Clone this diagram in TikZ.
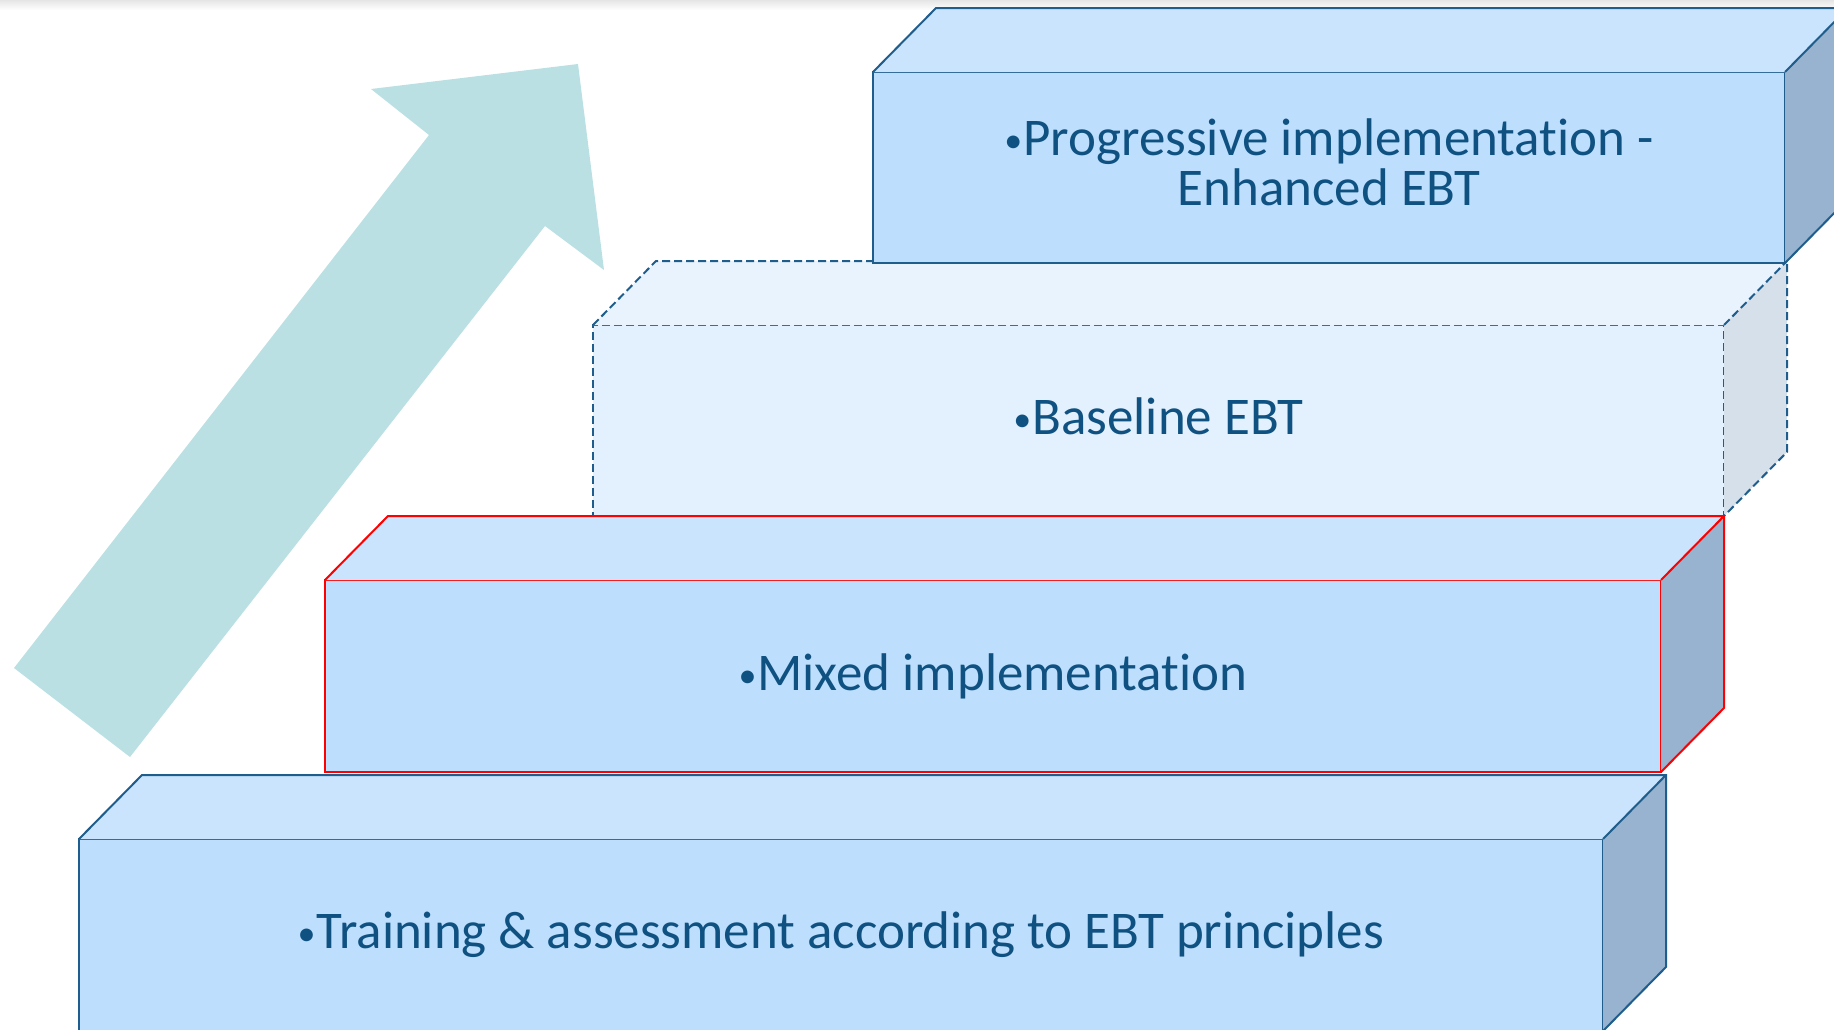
\documentclass[tikz,border=0pt]{standalone}
\usepackage{fontspec}
\setmainfont[Ligatures=NoCommon]{Carlito}
\usepackage{tikz}

\definecolor{stepline}{RGB}{31,93,140}
\definecolor{stepfront}{RGB}{189,222,253}
\definecolor{steptop}{RGB}{202,228,253}
\definecolor{stepside}{RGB}{152,179,207}
\definecolor{basefront}{RGB}{227,240,253}
\definecolor{basetop}{RGB}{232,243,253}
\definecolor{baseside}{RGB}{213,224,235}
\definecolor{arrowfill}{RGB}{187,224,227}
\definecolor{steptext}{RGB}{15,82,130}

\newcommand{\stepdot}{\raisebox{3pt}{\fontsize{36}{36}\selectfont•}\kern1pt}

\tikzset{
	front/.style={draw=stepline, line width=2pt, fill=stepfront, anchor=north west,
		outer sep=0pt, inner sep=0pt, text=steptext, align=center,
		font=\fontsize{53}{50}\selectfont},
	basefront/.style={front, fill=basefront, dash pattern=on 8pt off 4pt},
	redfront/.style={front, draw=red},
	edge/.style={draw=stepline, line width=2pt, line join=miter},
	baseedge/.style={edge, dash pattern=on 8pt off 4pt},
	rededge/.style={edge, draw=red},
}

\begin{document}
\begin{tikzpicture}[x=1pt, y=-1pt]
		\useasboundingbox (0,0) rectangle (1834,1029);
		\shade[top color=black!10, bottom color=white] (0,0) rectangle (1834,10);

		\fill[arrowfill] (578,64) -- (604,270) -- (545,226) -- (130,757)
			-- (14,668) -- (429,135) -- (371,89) -- cycle;

		\node[basefront, minimum width=1131pt, minimum height=191pt] (base) at (593,325) {\stepdot Baseline EBT\rule[-8pt]{0pt}{1pt}};
		\fill[basetop] (base.north west) -- ++(63,-64) -- ([shift={(63,-64)}]base.north east) -- (base.north east) -- cycle;
		\fill[baseside] (base.north east) -- ++(63,-64) -- ([shift={(63,-64)}]base.south east) -- (base.south east) -- cycle;
		\draw[baseedge] (base.north west) -- ++(63,-64) -- ([shift={(63,-64)}]base.north east)
			-- ([shift={(63,-64)}]base.south east) -- (base.south east)
			(base.north east) -- ++(63,-64);

		\node[front, minimum width=912pt, minimum height=191pt] (enh) at (873,72) {\stepdot Progressive implementation -\\Enhanced EBT\rule[-10pt]{0pt}{1pt}};
		\fill[steptop] (enh.north west) -- ++(63,-64) -- ([shift={(63,-64)}]enh.north east) -- (enh.north east) -- cycle;
		\fill[stepside] (enh.north east) -- ++(63,-64) -- ([shift={(63,-64)}]enh.south east) -- (enh.south east) -- cycle;
		\draw[edge] (enh.north west) -- ++(63,-64) -- ([shift={(63,-64)}]enh.north east)
			-- ([shift={(63,-64)}]enh.south east) -- (enh.south east)
			(enh.north east) -- ++(63,-64);

		\node[front, minimum width=1524pt, minimum height=192pt] (train) at (79,839) {\stepdot Training \& assessment according to EBT principles};
		\fill[steptop] (train.north west) -- ++(63,-64) -- ([shift={(63,-64)}]train.north east) -- (train.north east) -- cycle;
		\fill[stepside] (train.north east) -- ++(63,-64) -- ([shift={(63,-64)}]train.south east) -- (train.south east) -- cycle;
		\draw[edge] (train.north west) -- ++(63,-64) -- ([shift={(63,-64)}]train.north east)
			-- ([shift={(63,-64)}]train.south east) -- (train.south east)
			(train.north east) -- ++(63,-64);

		\node[redfront, minimum width=1336pt, minimum height=192pt] (mixed) at (325,580) {\stepdot Mixed implementation};
		\fill[steptop] (mixed.north west) -- ++(63,-64) -- ([shift={(63,-64)}]mixed.north east) -- (mixed.north east) -- cycle;
		\fill[stepside] (mixed.north east) -- ++(63,-64) -- ([shift={(63,-64)}]mixed.south east) -- (mixed.south east) -- cycle;
		\draw[rededge] (mixed.north west) -- ++(63,-64) -- ([shift={(63,-64)}]mixed.north east)
			-- ([shift={(63,-64)}]mixed.south east) -- (mixed.south east)
			(mixed.north east) -- ++(63,-64);
\end{tikzpicture}
\end{document}
